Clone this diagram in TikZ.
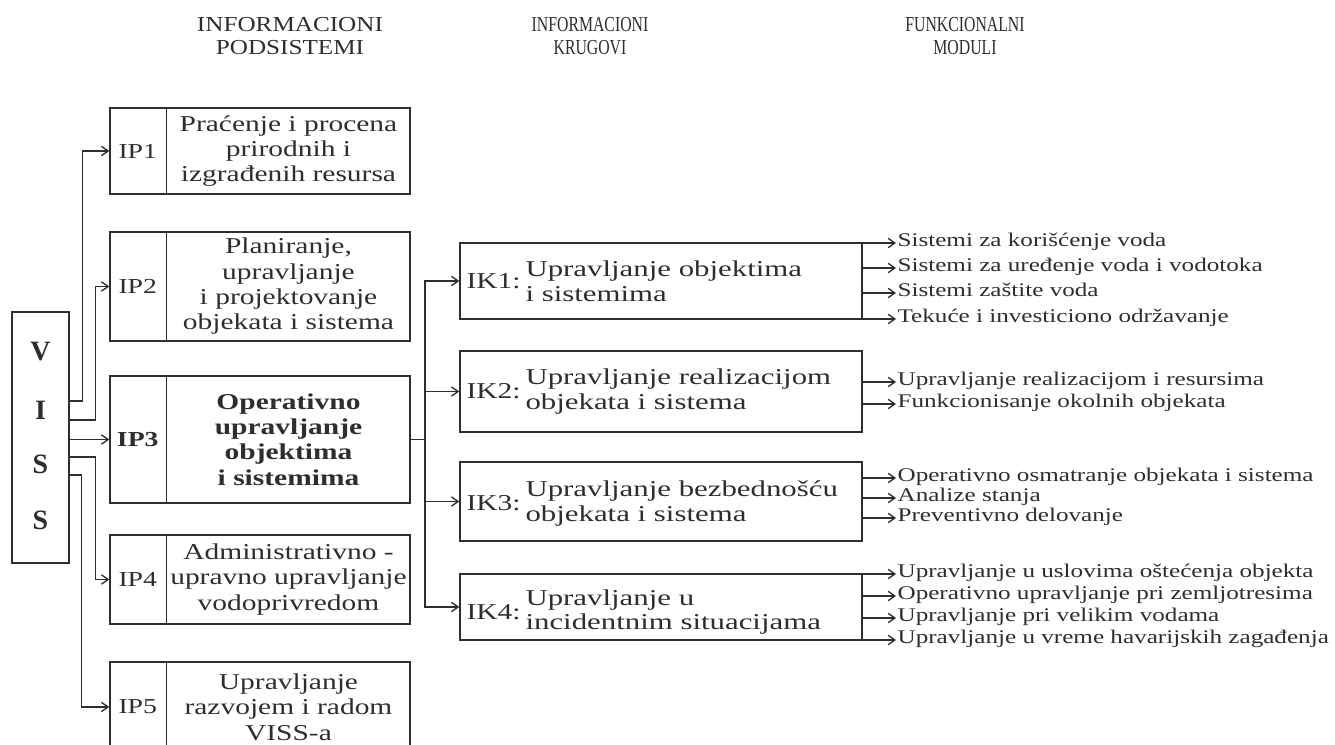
\documentclass[tikz,border=0pt]{standalone}
\usepackage{fontspec}
\setmainfont{Liberation Serif}
\newfontfamily\widefont{Liberation Serif}[FakeStretch=1.3]
\newfontfamily\ikfont{Liberation Serif}[FakeStretch=1.36]
\newfontfamily\hdrfont{Liberation Serif}[FakeStretch=1.18]
\newfontfamily\narrowfont{Liberation Serif}[FakeStretch=0.74]
\usetikzlibrary{arrows.meta,calc,fit}
\definecolor{ink}{HTML}{2E2E2E}
\tikzset{
  box/.style={draw=ink, line width=1.1pt, inner sep=0pt},
  ln/.style={draw=ink, line width=1pt},
  arr/.style={draw=ink, line width=1pt, -{Straight Barb[length=5pt,width=7pt,line width=1pt]}},
  hdrA/.style={font=\hdrfont\fontsize{16}{17}\selectfont, align=center, text=ink},
  hdrB/.style={font=\narrowfont\fontsize{16}{17}\selectfont, align=center, text=ink},
  vissletter/.style={font=\bfseries\fontsize{21}{21}\selectfont, text=ink, inner sep=0pt},
  iptext/.style={font=\widefont\fontsize{17}{19}\selectfont, align=center, text=ink, inner sep=0pt},
  iplab/.style={font=\widefont\fontsize{16}{16}\selectfont, text=ink, inner sep=0pt},
  iklab/.style={font=\widefont\fontsize{17}{17}\selectfont, text=ink, inner sep=0pt, anchor=west},
  iktext/.style={font=\ikfont\fontsize{17}{18.5}\selectfont, align=left, text=ink, inner sep=0pt, anchor=west},
  modtext/.style={font=\widefont\fontsize{14.5}{15}\selectfont, text=ink, inner xsep=1pt, inner ysep=0pt,
    text height=0.75em, text depth=0.25em, anchor=west}
}
\begin{document}
\begin{tikzpicture}[x=0.75pt,y=-0.75pt]
\useasboundingbox (0,0) rectangle (1335,745);
\clip (0,0) rectangle (1335,745);
\fill[white] (0,0) rectangle (1335,745);

% headers
\node[hdrA] (h1) at (290,36) {INFORMACIONI\\PODSISTEMI};
\node[hdrB] (h2) at (590,36) {INFORMACIONI\\KRUGOVI};
\node[hdrB] (h3) at (965,36) {FUNKCIONALNI\\MODULI};

% VISS
\node[box, fit={(12,312) (69,563)}] (viss) {};
\node[vissletter] (vv) at (40.5,352) {V};
\node[vissletter] (vi) at (40.5,410) {I};
\node[vissletter] (vs1) at (40.5,464) {S};
\node[vissletter] (vs2) at (40.5,520) {S};

% IP boxes
\node[box, fit={(110,108) (410,194)}] (ip1) {};
\node[box, fit={(110,232) (410,341)}] (ip2) {};
\node[box, fit={(110,376) (410,503)}] (ip3) {};
\node[box, fit={(110,535) (410,624)}] (ip4) {};
\node[box, fit={(110,662) (410,752)}] (ip5) {};
\foreach \b in {ip1,ip2,ip3,ip4,ip5}{
  \draw[ln] ($(\b.north west)+(57,0)$) -- ($(\b.south west)+(57,0)$);
}
\node[iplab] (ip1l) at ($(ip1.west)+(28.5,0)$) {IP1};
\node[iplab] (ip2l) at ($(ip2.west)+(28.5,0)$) {IP2};
\node[iplab, font=\widefont\bfseries\fontsize{16}{16}\selectfont] (ip3l) at ($(ip3.west)+(28.5,0)$) {IP3};
\node[iplab] (ip4l) at ($(ip4.west)+(28.5,0)$) {IP4};
\node[iplab] (ip5l) at ($(ip5.west)+(28.5,0)$) {IP5};
\node[iptext] (ip1t) at ($(ip1.center)+(28.5,0)$) {Praćenje i procena\\prirodnih i\\izgrađenih resursa};
\node[iptext] (ip2t) at ($(ip2.center)+(28.5,0)$) {Planiranje,\\upravljanje\\i projektovanje\\objekata i sistema};
\node[iptext, font=\widefont\bfseries\fontsize{17}{19}\selectfont] (ip3t) at ($(ip3.center)+(28.5,0)$) {Operativno\\upravljanje\\objektima\\i sistemima};
\node[iptext] (ip4t) at ($(ip4.center)+(28.5,0)$) {Administrativno -\\upravno upravljanje\\vodoprivredom};
\node[iptext] (ip5t) at ($(ip5.center)+(28.5,0)$) {Upravljanje\\razvojem i radom\\VISS-a};

% VISS -> IP connectors
\draw[arr] ($(viss.east)+(0,-36.5)$) -- ++(13,0) |- (ip1.west);
\draw[arr] ($(viss.east)+(0,-17.5)$) -- ++(26,0) |- (ip2.west);
\draw[arr] (viss.east |- ip3.west) -- (ip3.west);
\draw[arr] ($(viss.east)+(0,19.5)$) -- ++(26,0) |- (ip4.west);
\draw[arr] ($(viss.east)+(0,37.5)$) -- ++(12,0) |- (ip5.west);

% IK boxes
\node[box, fit={(460,243) (862,319)}] (ik1) {};
\node[box, fit={(460,351) (862,432)}] (ik2) {};
\node[box, fit={(460,462) (862,541)}] (ik3) {};
\node[box, fit={(460,574) (862,640)}] (ik4) {};
\node[iklab] (ik1l) at ($(ik1.west)+(7,0)$) {IK1:};
\node[iklab] (ik2l) at ($(ik2.west)+(7,0)$) {IK2:};
\node[iklab] (ik3l) at ($(ik3.west)+(7,2)$) {IK3:};
\node[iklab] (ik4l) at ($(ik4.west)+(7,5)$) {IK4:};
\node[iktext] (ik1t) at ($(ik1.west)+(66,0)$) {Upravljanje objektima\\i sistemima};
\node[iktext] (ik2t) at ($(ik2.west)+(66,0)$) {Upravljanje realizacijom\\objekata i sistema};
\node[iktext] (ik3t) at ($(ik3.west)+(66,2)$) {Upravljanje bezbednošću\\objekata i sistema};
\node[iktext] (ik4t) at ($(ik4.west)+(66,5)$) {Upravljanje u\\incidentnim situacijama};

% IP3 -> IK connectors
\coordinate (jx) at (425,441);
\draw[ln] (ip3.east) -- (ip3.east -| jx);
\foreach \k in {ik1,ik2,ik3,ik4}{
  \draw[arr] (ip3.east -| jx) |- (\k.west);
}

% functional modules
\node[modtext] (m11) at (896,243) {Sistemi za korišćenje voda};
\node[modtext] (m12) at (896,268) {Sistemi za uređenje voda i vodotoka};
\node[modtext] (m13) at (896,293) {Sistemi zaštite voda};
\node[modtext] (m14) at (896,319) {Tekuće i investiciono održavanje};
\node[modtext] (m21) at (896,382) {Upravljanje realizacijom i resursima};
\node[modtext] (m22) at (896,404) {Funkcionisanje okolnih objekata};
\node[modtext] (m31) at (896,478) {Operativno osmatranje objekata i sistema};
\node[modtext] (m32) at (896,498) {Analize stanja};
\node[modtext] (m33) at (896,518) {Preventivno delovanje};
\node[modtext] (m41) at (896,574) {Upravljanje u uslovima oštećenja objekta};
\node[modtext] (m42) at (896,596) {Operativno upravljanje pri zemljotresima};
\node[modtext] (m43) at (896,618) {Upravljanje pri velikim vodama};
\node[modtext] (m44) at (896,640) {Upravljanje u vreme havarijskih zagađenja};
\foreach \m/\k in {m11/ik1,m12/ik1,m13/ik1,m14/ik1,m21/ik2,m22/ik2,m31/ik3,m32/ik3,m33/ik3,m41/ik4,m42/ik4,m43/ik4,m44/ik4}{
  \draw[arr] (\k.east |- \m.west) -- (\m.west);
}
\end{tikzpicture}
\end{document}
